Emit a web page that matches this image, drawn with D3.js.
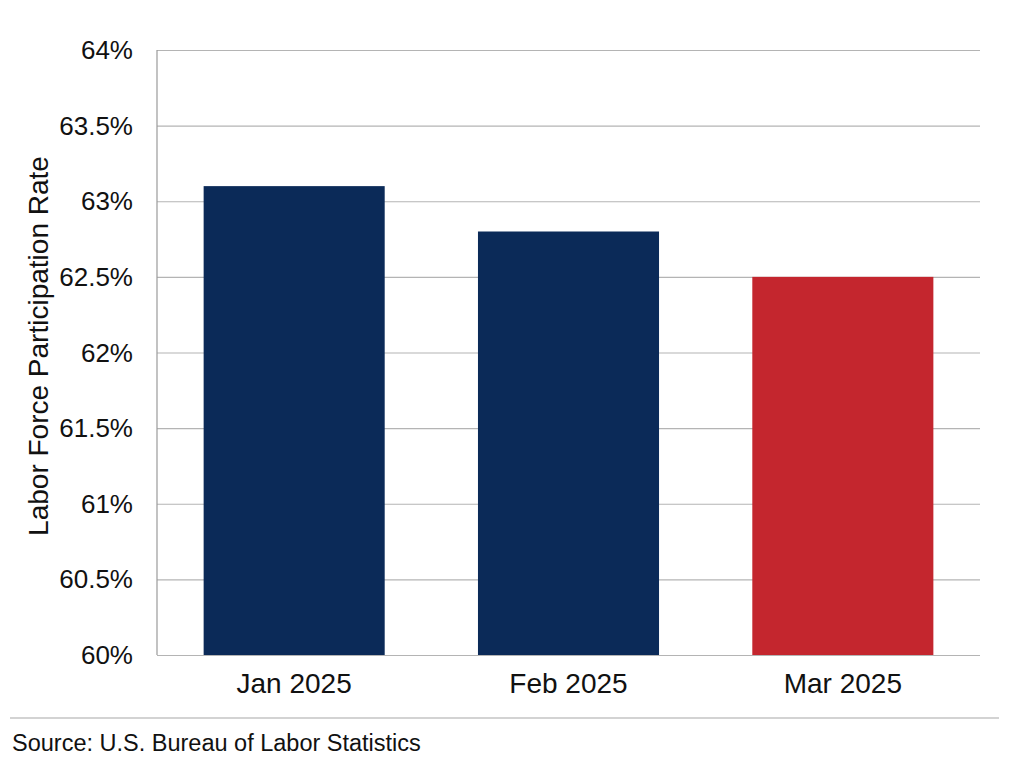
<!DOCTYPE html>
<meta charset="utf-8">
<style>
	body { margin: 0; background: white; }
	text { font-family: "Liberation Sans", Arial, sans-serif; fill: #111; }
	.grid line { stroke: #b4b4b4; stroke-width: 1.2px; }
	.grid path { display: none; }
</style>
<html>
<body>
<script src="https://d3js.org/d3.v7.min.js"></script>
<script>
	var months = ["Jan 2025", "Feb 2025", "Mar 2025"];
	var rates = [63.1, 62.8, 62.5];
	var barColors = ["#0b2a58", "#0b2a58", "#c4262e"];
	var yTicks = [60, 60.5, 61, 61.5, 62, 62.5, 63, 63.5, 64];

	var width = 1024, height = 765;
	var margin = {top: 50, right: 44, bottom: 110, left: 157};

	var svg = d3.select("body").append("svg")
		.attr("width", width)
		.attr("height", height);

	var x = d3.scaleBand()
		.domain(months)
		.range([margin.left, width - margin.right])
		.paddingInner(0.34)
		.paddingOuter(0.17);

	var y = d3.scaleLinear()
		.domain([60, 64])
		.range([height - margin.bottom, margin.top]);

	// gridlines
	svg.append("g")
		.attr("class", "grid")
		.attr("transform", `translate(${margin.left},0)`)
		.call(d3.axisLeft(y).tickValues(yTicks).tickSize(-(width - margin.right - margin.left)).tickFormat(""));

	// bars
	svg.selectAll("rect.bar")
		.data(rates)
		.enter().append("rect")
		.attr("class", "bar")
		.attr("x", (d, i) => x(months[i]))
		.attr("width", x.bandwidth())
		.attr("y", d => y(d))
		.attr("height", d => y(60) - y(d))
		.attr("fill", (d, i) => barColors[i]);

	// left axis line
	svg.append("line")
		.attr("x1", margin.left).attr("x2", margin.left)
		.attr("y1", y(64)).attr("y2", y(60))
		.style("stroke", "#9a9a9a").style("stroke-width", 1.2);

	// y tick labels
	var fmt = d => d + "%";
	svg.selectAll("text.ytick")
		.data(yTicks)
		.enter().append("text")
		.attr("class", "ytick")
		.attr("x", 133)
		.attr("y", d => y(d))
		.attr("dy", "0.35em")
		.attr("text-anchor", "end")
		.style("font-size", "26px")
		.text(fmt);

	// x labels
	svg.selectAll("text.xtick")
		.data(months)
		.enter().append("text")
		.attr("class", "xtick")
		.attr("x", d => x(d) + x.bandwidth() / 2)
		.attr("y", 693)
		.attr("text-anchor", "middle")
		.style("font-size", "28px")
		.text(d => d);

	// y axis title
	svg.append("text")
		.attr("transform", "translate(48,346) rotate(-90)")
		.attr("text-anchor", "middle")
		.style("font-size", "28px")
		.text("Labor Force Participation Rate");

	// source rule + text
	svg.append("line")
		.attr("x1", 10).attr("x2", 999)
		.attr("y1", 718).attr("y2", 718)
		.style("stroke", "#a8a8a8").style("stroke-width", 1.2);

	svg.append("text")
		.attr("x", 12)
		.attr("y", 751)
		.style("font-size", "23.5px")
		.text("Source: U.S. Bureau of Labor Statistics");
</script>
</body>
</html>
